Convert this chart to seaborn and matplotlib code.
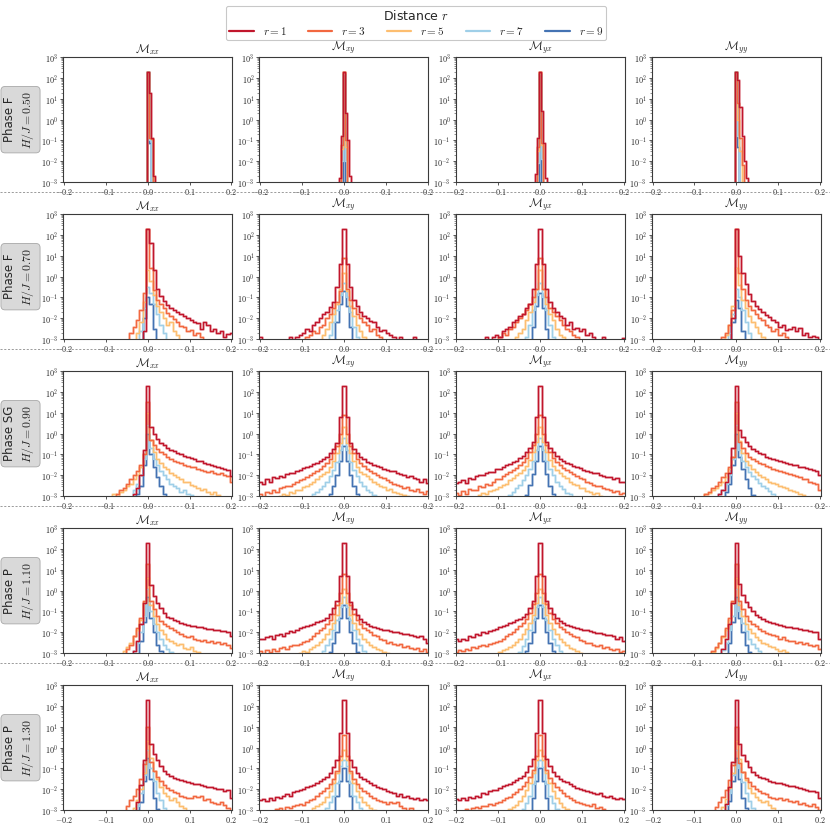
import numpy as np
import pandas as pd
import matplotlib
matplotlib.use("Agg")
import matplotlib.pyplot as plt
import seaborn as sns
from matplotlib.lines import Line2D
from matplotlib.ticker import FixedLocator, FixedFormatter, NullFormatter, LogLocator

# ---------------- labels / categories ----------------
DISTANCES = [1, 3, 5, 7, 9]
COMPONENT_TITLES = [r"$\mathcal{M}_{xx}$", r"$\mathcal{M}_{xy}$",
                    r"$\mathcal{M}_{yx}$", r"$\mathcal{M}_{yy}$"]
PHASES = ["F", "F", "SG", "P", "P"]
FIELDS = ["0.50", "0.70", "0.90", "1.10", "1.30"]
COLORS = ["#c1162c", "#f26840", "#fdbe70", "#9fcfe8", "#4473b3"]
XTICKS = [-0.2, -0.1, 0.0, 0.1, 0.2]
XTICK_LABELS = [r"$-0.2$", r"$-0.1$", r"$0.0$", r"$0.1$", r"$0.2$"]
YTICKS = [1e-3, 1e-2, 1e-1, 1e0, 1e1, 1e2, 1e3]
YTICK_LABELS = [r"$10^{-3}$", r"$10^{-2}$", r"$10^{-1}$", r"$10^{0}$",
                r"$10^{1}$", r"$10^{2}$", r"$10^{3}$"]
BIN_WIDTHS = [0.005, 0.008, 0.008, 0.008, 0.008]

# ---------------- data: (first bin offset from 0, log10 heights) per r ----------------
F050_xx = [(0, [2.3, 1.3, -0.9, -2.7]), (0, [2.3, -0.9, -0.95]), (0, [2.3, -0.9, -0.95]),
           (0, [2.3, -1.0]), (0, [2.3, -1.1])]
F050_xy = [(-2, [-2.8, -0.8, 2.3, 0.3, -1.0, -2.7]), (-1, [-1.2, 2.3, -1.0]), (-1, [-1.4, 2.3, -1.3]),
           (-1, [-2.0, 2.2, -2.0]), (0, [2.2])]
F050_yx = [(-2, [-2.6, -0.9, 2.3, 0.4, -1.1, -2.8]), (-1, [-1.3, 2.3, -1.1]), (-1, [-1.5, 2.3, -1.2]),
           (-1, [-2.1, 2.2, -1.9]), (0, [2.2])]
F050_yy = [(0, [2.3, 1.9, 0.6, -0.8, -2.0, -2.8]), (0, [2.3, 0.8, -0.9, -2.2]), (0, [2.3, 0.0, -1.5]),
           (0, [2.3, -0.8]), (0, [2.3, -1.3])]

F070_xx = [
    (-1, [-2.6, 2.3, 1.6, 0.3, -0.6, -0.95, -1.15, -1.35, -1.5, -1.6, -1.7, -1.8, -1.9, -2.0, -2.1, -2.2,
          -2.25, -2.5, -2.2, -2.3, -2.6, -2.5, -2.7, -2.6, -2.9, -2.75, -2.7]),
    (-5, [-2.7, -2.4, -2.1, -1.6, -0.8, 2.3, 0.4, -0.65, -1.1, -1.3, -1.5, -1.75, -1.9, -2.05, -2.2, -2.35,
          -2.4, -2.6, -2.55, -2.8, -2.7, -2.9]),
    (-3, [-2.7, -2.2, -1.2, 0.3, -0.2, -0.9, -1.4, -1.7, -2.0, -2.3, -2.2, -2.6, -2.8]),
    (-2, [-2.6, -1.5, -0.5, -0.8, -1.3, -1.8, -2.3, -2.7]),
    (-1, [-2.0, -1.0, -1.3, -2.5])]
F070_xy = [
    (-25, [-2.9, -4, -4, -4, -4, -4, -4, -4, -4, -2.9, -4, -2.9, -2.8, -2.7, -2.5, -2.6, -2.3, -2.2, -2.0,
           -1.8, -1.7, -1.45, -1.2, -0.5, 0.6, 2.3, 0.6, -0.5, -1.1, -1.4, -1.7, -1.9, -2.0, -2.15, -2.2,
           -2.4, -2.6, -2.55, -2.7, -2.8, -2.9, -4, -2.9, -4, -4, -4, -2.9]),
    (-11, [-2.9, -2.8, -2.6, -2.7, -2.4, -2.3, -2.0, -1.8, -1.5, -1.2, -0.7, 0.9, -0.6, -1.1, -1.5, -1.8,
           -2.0, -2.2, -2.3, -2.6, -2.5, -2.8, -2.9]),
    (-6, [-2.8, -2.5, -2.2, -1.8, -1.3, -0.6, 0.2, -0.7, -1.4, -1.9, -2.3, -2.6, -2.9]),
    (-4, [-2.8, -2.2, -1.6, -0.9, -0.3, -1.0, -1.7, -2.4, -2.9]),
    (-2, [-2.2, -1.3, -0.7, -1.4, -2.4])]
F070_yx = [
    (-16, [-2.9, -4, -2.9, -2.8, -2.9, -2.6, -2.5, -2.4, -2.2, -2.1, -1.9, -1.8, -1.5, -1.3, -0.6, 0.6, 2.3,
           0.6, -0.6, -1.2, -1.5, -1.7, -1.9, -2.0, -2.3, -2.2, -2.5, -2.45, -2.6, -2.5, -2.8, -2.7, -2.9,
           -4, -4, -2.9, -4, -4, -4, -4, -4, -2.95]),
    (-12, [-2.9, -2.7, -2.8, -2.5, -2.4, -2.2, -2.0, -1.8, -1.6, -1.3, -1.0, -0.6, 0.9, -0.6, -1.0, -1.5,
           -1.7, -1.9, -2.1, -2.3, -2.5, -2.6, -2.8, -2.9]),
    (-7, [-2.9, -2.7, -2.5, -2.1, -1.7, -1.2, -0.6, 0.3, -0.6, -1.3, -1.8, -2.1, -2.5, -2.8, -2.9]),
    (-4, [-2.9, -2.3, -1.6, -0.9, -0.3, -1.0, -1.6, -2.3, -2.9]),
    (-2, [-2.4, -1.4, -0.8, -1.5, -2.5])]
F070_yy = [
    (-1, [-2.0, 2.3, 1.0, 0.2, -0.35, -0.85, -1.15, -1.4, -1.55, -1.7, -1.85, -1.95, -2.1, -2.2, -2.4, -2.3,
          -2.55, -2.5, -2.4, -2.6, -2.45, -2.8, -2.7, -2.9, -2.85, -2.9]),
    (-4, [-2.9, -2.7, -2.3, -1.6, 2.3, 0.2, -0.6, -1.1, -1.4, -1.6, -1.8, -2.0, -2.1, -2.3, -2.4, -2.6,
          -2.5, -2.8, -2.7, -2.9]),
    (-3, [-2.8, -2.3, -1.4, 0.4, -0.4, -1.1, -1.5, -1.9, -2.2, -2.4, -2.7, -2.9]),
    (-2, [-2.7, -1.8, -0.6, -1.0, -1.6, -2.2, -2.7]),
    (-1, [-2.2, -1.1, -1.5, -2.6])]

SG090_xx = [
    (-4, [-2.9, -2.6, -2.0, -0.8, 2.3, 0.3, 0.0, -0.25, -0.45, -0.55, -0.7, -0.8, -0.85, -0.95, -1.0, -1.05,
          -1.1, -1.15, -1.2, -1.3, -1.3, -1.4, -1.45, -1.5, -1.55, -1.6, -1.65, -1.7, -1.75, -2.05]),
    (-9, [-2.9, -2.7, -2.6, -2.4, -2.2, -2.0, -1.8, -1.5, -1.0, 1.5, -0.3, -0.55, -0.75, -0.9, -1.0, -1.1,
          -1.2, -1.3, -1.35, -1.4, -1.5, -1.55, -1.6, -1.6, -1.7, -1.75, -1.8, -1.85, -1.8, -1.9, -1.95,
          -1.9, -2.0, -2.05, -2.3]),
    (-10, [-2.9, -3.5, -2.8, -2.7, -2.5, -2.4, -2.2, -2.0, -1.6, -1.0, 1.0, -0.3, -0.9, -1.2, -1.4, -1.6,
           -1.7, -1.9, -2.0, -2.1, -2.2, -2.3, -2.3, -2.45, -2.5, -2.6, -2.7, -2.65, -2.8, -2.9, -2.8, -2.95]),
    (-4, [-2.7, -2.4, -2.0, -1.2, 0.4, -0.7, -1.2, -1.5, -1.8, -2.0, -2.2, -2.4, -2.5, -2.6, -2.8, -2.7,
          -2.9, -2.95]),
    (-3, [-2.9, -2.5, -1.5, 0.0, -1.0, -1.6, -2.1, -2.5, -2.9])]
SG090_xy = [
    (-25, [-2.3, -2.4, -2.2, -2.3, -2.1, -2.15, -2.05, -2.1, -1.95, -1.9, -1.9, -1.8, -1.75, -1.65, -1.6,
           -1.55, -1.45, -1.4, -1.3, -1.2, -1.1, -0.95, -0.75, -0.45, 0.8, 2.3, 0.8, -0.45, -0.75, -0.95,
           -1.1, -1.2, -1.35, -1.4, -1.5, -1.55, -1.6, -1.7, -1.75, -1.8, -1.8, -1.9, -1.95, -2.0, -2.1,
           -2.05, -2.15, -2.2, -2.3, -2.2, -2.35]),
    (-25, [-2.9, -3.1, -2.8, -2.85, -2.7, -2.8, -2.6, -2.55, -2.5, -2.5, -2.4, -2.3, -2.25, -2.2, -2.1,
           -2.0, -1.9, -1.8, -1.7, -1.55, -1.4, -1.2, -0.95, -0.6, 0.0, 0.9, 0.0, -0.6, -0.95, -1.2, -1.4,
           -1.55, -1.7, -1.8, -1.9, -2.0, -2.1, -2.15, -2.25, -2.3, -2.4, -2.45, -2.5, -2.6, -2.55, -2.7,
           -2.75, -2.65, -2.8, -2.9, -2.75]),
    (-19, [-3.0, -2.9, -2.95, -2.8, -2.85, -2.7, -2.7, -2.55, -2.5, -2.4, -2.3, -2.2, -2.05, -1.95, -1.85,
           -1.6, -1.3, -0.95, -0.45, 0.3, -0.45, -0.95, -1.3, -1.6, -1.85, -1.95, -2.05, -2.2, -2.3, -2.4,
           -2.5, -2.55, -2.7, -2.65, -2.8, -2.85, -2.9, -2.95, -3.0]),
    (-9, [-2.9, -2.8, -2.65, -2.5, -2.3, -2.05, -1.75, -1.35, -0.8, -0.2, -0.8, -1.35, -1.75, -2.05, -2.3,
          -2.5, -2.7, -2.8, -2.95]),
    (-4, [-2.9, -2.5, -2.0, -1.3, -0.6, -1.3, -2.0, -2.5, -2.9])]
SG090_yx = [
    (-25, [-2.35, -2.3, -2.25, -2.35, -2.15, -2.2, -2.05, -2.0, -2.0, -1.9, -1.85, -1.85, -1.7, -1.7, -1.6,
           -1.5, -1.45, -1.35, -1.3, -1.15, -1.05, -0.9, -0.7, -0.4, 0.8, 2.3, 0.8, -0.4, -0.7, -0.9, -1.05,
           -1.2, -1.3, -1.4, -1.45, -1.55, -1.6, -1.65, -1.75, -1.8, -1.85, -1.9, -1.9, -2.0, -2.05, -2.1,
           -2.1, -2.2, -2.15, -2.3, -2.3]),
    (-25, [-2.85, -2.95, -2.75, -2.9, -2.65, -2.7, -2.7, -2.5, -2.55, -2.4, -2.45, -2.3, -2.2, -2.2, -2.05,
           -1.95, -1.85, -1.75, -1.65, -1.5, -1.35, -1.15, -0.9, -0.55, 0.0, 0.9, 0.0, -0.55, -0.9, -1.15,
           -1.35, -1.5, -1.65, -1.75, -1.85, -1.95, -2.05, -2.15, -2.2, -2.3, -2.35, -2.45, -2.5, -2.5,
           -2.6, -2.65, -2.7, -2.8, -2.75, -2.9, -2.85]),
    (-18, [-2.95, -2.85, -2.9, -2.75, -2.7, -2.65, -2.55, -2.45, -2.4, -2.25, -2.15, -2.0, -1.9, -1.75,
           -1.55, -1.25, -0.9, -0.4, 0.3, -0.4, -0.9, -1.25, -1.55, -1.75, -1.9, -2.05, -2.15, -2.3, -2.4,
           -2.45, -2.6, -2.6, -2.75, -2.8, -2.9, -2.85, -3.0]),
    (-9, [-2.95, -2.8, -2.6, -2.45, -2.25, -2.0, -1.7, -1.3, -0.8, -0.2, -0.8, -1.3, -1.7, -2.0, -2.3,
          -2.5, -2.65, -2.85, -2.9]),
    (-4, [-2.95, -2.45, -1.95, -1.3, -0.6, -1.3, -1.95, -2.5, -2.9])]
SG090_yy = [
    (-5, [-2.9, -2.7, -2.3, -1.9, -0.7, 2.3, 0.2, -0.15, -0.4, -0.6, -0.75, -0.85, -0.95, -1.0, -1.1, -1.15,
          -1.2, -1.25, -1.3, -1.35, -1.4, -1.45, -1.5, -1.5, -1.6, -1.6, -1.65, -1.7, -1.75, -1.8, -2.0]),
    (-9, [-2.9, -2.8, -2.6, -2.5, -2.3, -2.1, -1.9, -1.6, -1.1, 1.5, -0.4, -0.7, -0.95, -1.1, -1.2, -1.3,
          -1.4, -1.45, -1.55, -1.6, -1.7, -1.75, -1.8, -1.85, -1.9, -1.95, -2.0, -2.05, -2.1, -2.2, -2.2,
          -2.3, -2.35, -2.4, -2.7]),
    (-9, [-2.9, -2.85, -2.7, -2.6, -2.45, -2.3, -2.1, -1.7, -1.1, 1.0, -0.35, -0.95, -1.3, -1.5, -1.7,
          -1.85, -2.0, -2.1, -2.2, -2.3, -2.35, -2.4, -2.5, -2.55, -2.6, -2.7, -2.75, -2.8, -2.9, -2.95]),
    (-5, [-2.9, -2.7, -2.4, -2.0, -1.2, 0.4, -0.8, -1.3, -1.6, -1.85, -2.05, -2.2, -2.35, -2.5, -2.6,
          -2.75, -2.9]),
    (-3, [-2.8, -2.4, -1.5, 0.0, -1.1, -1.7, -2.2, -2.6, -2.95])]

P110_xx = [
    (-4, [-2.9, -2.4, -1.6, -0.6, 2.3, 0.25, -0.25, -0.6, -0.85, -1.05, -1.25, -1.3, -1.4, -1.45, -1.55,
          -1.6, -1.65, -1.7, -1.7, -1.75, -1.75, -1.8, -1.85, -1.85, -1.9, -1.9, -1.95, -1.95, -2.0, -2.2]),
    (-6, [-2.8, -2.6, -2.2, -1.8, -1.3, -0.5, 1.3, -0.5, -0.9, -1.2, -1.45, -1.6, -1.7, -1.8, -1.9, -2.0,
          -2.1, -2.2, -2.25, -2.2, -2.3, -2.35, -2.4, -2.35, -2.45, -2.4, -2.5, -2.45, -2.55, -2.5, -2.6,
          -2.75]),
    (-7, [-2.9, -2.7, -2.5, -2.2, -1.9, -1.4, -0.6, 0.6, -0.7, -1.2, -1.6, -1.9, -2.1, -2.3, -2.4, -2.5,
          -2.6, -2.55, -2.75, -2.8, -2.7, -2.9, -2.95]),
    (-4, [-2.9, -2.5, -2.0, -1.2, 0.1, -1.0, -1.6, -2.0, -2.3, -2.6, -2.8, -2.95]),
    (-2, [-2.4, -1.5, -0.3, -1.3, -2.0, -2.6, -2.9])]
P110_xy = [
    (-25, [-2.3, -2.3, -2.25, -2.2, -2.3, -2.15, -2.1, -2.2, -2.05, -1.95, -2.0, -1.9, -1.8, -1.75, -1.7,
           -1.65, -1.6, -1.5, -1.45, -1.4, -1.3, -1.1, -0.85, -0.5, 0.7, 2.3, 0.7, -0.55, -0.9, -1.15,
           -1.35, -1.5, -1.6, -1.7, -1.75, -1.8, -1.85, -1.9, -1.9, -1.95, -2.0, -2.0, -2.05, -2.1, -2.1,
           -2.15, -2.2, -2.25, -2.2, -2.3, -2.5]),
    (-25, [-2.9, -3.1, -2.85, -2.95, -2.8, -2.9, -2.75, -2.7, -2.8, -2.65, -2.6, -2.6, -2.55, -2.45, -2.4,
           -2.3, -2.2, -2.05, -1.9, -1.8, -1.6, -1.4, -1.1, -0.7, -0.1, 0.8, -0.1, -0.7, -1.1, -1.4, -1.6,
           -1.8, -1.9, -2.0, -2.15, -2.2, -2.3, -2.35, -2.5, -2.45, -2.55, -2.6, -2.55, -2.7, -2.65, -2.75,
           -2.8, -2.75, -2.9, -2.8, -2.95]),
    (-13, [-3.0, -2.9, -2.95, -2.8, -2.7, -2.6, -2.45, -2.3, -2.1, -1.85, -1.55, -1.15, -0.6, 0.1, -0.6,
           -1.15, -1.55, -1.85, -2.1, -2.3, -2.45, -2.6, -2.7, -2.8, -2.85, -2.95, -3.0]),
    (-6, [-2.9, -2.6, -2.3, -1.9, -1.4, -0.8, -0.3, -0.8, -1.4, -1.9, -2.3, -2.6, -2.9]),
    (-4, [-2.95, -2.5, -2.0, -1.3, -0.7, -1.3, -2.0, -2.5, -2.95])]
P110_yx = [
    (-25, [-2.3, -2.4, -2.3, -2.35, -2.2, -2.25, -2.1, -2.15, -2.0, -2.05, -1.95, -1.9, -1.85, -1.75, -1.7,
           -1.65, -1.55, -1.5, -1.4, -1.35, -1.25, -1.1, -0.85, -0.5, 0.7, 2.3, 0.7, -0.5, -0.85, -1.1,
           -1.3, -1.45, -1.55, -1.65, -1.7, -1.75, -1.8, -1.85, -1.9, -1.9, -1.95, -2.0, -2.05, -2.05, -2.1,
           -2.15, -2.15, -2.2, -2.3, -2.25, -2.4]),
    (-25, [-2.95, -2.85, -2.9, -2.8, -2.85, -2.7, -2.75, -2.65, -2.6, -2.65, -2.55, -2.5, -2.45, -2.4, -2.3,
           -2.2, -2.1, -2.0, -1.85, -1.7, -1.55, -1.35, -1.05, -0.65, -0.1, 0.8, -0.1, -0.65, -1.05, -1.35,
           -1.55, -1.75, -1.85, -2.0, -2.1, -2.2, -2.25, -2.35, -2.4, -2.5, -2.5, -2.6, -2.65, -2.6, -2.75,
           -2.7, -2.8, -2.85, -2.8, -2.95, -2.9]),
    (-12, [-2.95, -2.85, -2.8, -2.7, -2.6, -2.45, -2.3, -2.1, -1.85, -1.55, -1.15, -0.6, 0.1, -0.6, -1.15,
           -1.55, -1.85, -2.1, -2.3, -2.45, -2.6, -2.75, -2.8, -2.9, -3.0]),
    (-6, [-2.95, -2.65, -2.3, -1.9, -1.4, -0.8, -0.3, -0.8, -1.4, -1.9, -2.3, -2.6, -2.9]),
    (-4, [-2.9, -2.5, -2.0, -1.3, -0.7, -1.3, -2.0, -2.5, -2.9])]
P110_yy = [
    (-4, [-2.8, -2.3, -1.6, -0.6, 2.3, 0.3, -0.2, -0.55, -0.8, -1.0, -1.15, -1.25, -1.35, -1.45, -1.5,
          -1.55, -1.6, -1.65, -1.7, -1.75, -1.75, -1.8, -1.8, -1.85, -1.9, -1.9, -1.95, -2.0, -2.0, -2.3]),
    (-7, [-2.9, -2.7, -2.5, -2.2, -1.8, -1.3, -0.5, 1.3, -0.5, -0.9, -1.2, -1.45, -1.6, -1.7, -1.85, -1.95,
          -2.05, -2.1, -2.15, -2.2, -2.3, -2.25, -2.35, -2.4, -2.4, -2.5, -2.45, -2.55, -2.5, -2.6, -2.65,
          -2.6, -2.8]),
    (-7, [-2.95, -2.75, -2.5, -2.25, -1.9, -1.4, -0.6, 0.6, -0.7, -1.2, -1.6, -1.85, -2.05, -2.25, -2.35,
          -2.5, -2.55, -2.65, -2.7, -2.8, -2.9, -2.85, -2.95]),
    (-4, [-2.85, -2.5, -1.9, -1.2, 0.1, -1.0, -1.55, -1.95, -2.3, -2.55, -2.75, -2.9]),
    (-2, [-2.5, -1.5, -0.3, -1.3, -2.0, -2.6, -2.95])]

P130_xx = [
    (-3, [-2.6, -1.8, -0.6, 2.3, 0.2, -0.3, -0.6, -0.9, -1.1, -1.25, -1.35, -1.45, -1.5, -1.55, -1.6,
          -1.65, -1.7, -1.75, -1.75, -1.8, -1.85, -1.9, -1.9, -1.95, -2.0, -2.0, -2.1, -2.05, -2.4]),
    (-6, [-2.8, -2.5, -2.3, -2.0, -1.5, -0.8, 1.0, -0.7, -1.1, -1.4, -1.6, -1.8, -1.95, -2.05, -2.15, -2.2,
          -2.3, -2.35, -2.4, -2.4, -2.3, -2.35, -2.3, -2.5, -2.45, -2.6, -2.65, -2.7, -2.6, -2.75, -2.9,
          -3.2]),
    (-4, [-2.9, -2.5, -2.0, -1.2, 0.3, -0.5, -1.1, -1.5, -1.9, -2.2, -2.3, -2.5, -2.4, -2.6, -2.8, -2.9]),
    (-3, [-2.8, -2.2, -1.3, -0.1, -1.0, -1.6, -2.2, -2.5, -2.9]),
    (-2, [-2.6, -1.6, -0.5, -1.5, -2.4, -2.95])]
P130_xy = [
    (-25, [-2.5, -2.45, -2.55, -2.4, -2.5, -2.35, -2.4, -2.3, -2.25, -2.3, -2.15, -2.1, -2.05, -2.0, -1.9,
           -1.85, -1.8, -1.7, -1.6, -1.5, -1.4, -1.2, -0.95, -0.6, 0.7, 2.3, 0.7, -0.6, -0.95, -1.2, -1.4,
           -1.5, -1.6, -1.7, -1.8, -1.9, -1.95, -2.0, -2.1, -2.15, -2.2, -2.3, -2.25, -2.35, -2.3, -2.4,
           -2.45, -2.4, -2.5, -2.45, -2.5]),
    (-20, [-2.95, -2.9, -3.2, -2.85, -2.9, -2.8, -2.75, -2.7, -2.75, -2.6, -2.5, -2.45, -2.3, -2.2, -2.1,
           -1.95, -1.75, -1.5, -1.1, -0.4, 0.6, -0.4, -1.1, -1.5, -1.75, -1.95, -2.1, -2.2, -2.3, -2.4,
           -2.5, -2.55, -2.6, -2.7, -2.6, -2.65, -2.6, -2.8, -2.9, -3.2, -2.9]),
    (-9, [-2.9, -2.8, -2.7, -2.6, -2.35, -2.1, -1.7, -1.2, -0.6, -0.1, -0.6, -1.2, -1.7, -2.1, -2.35, -2.6,
          -2.75, -2.9, -3.0]),
    (-5, [-2.9, -2.6, -2.3, -1.7, -0.9, -0.6, -0.9, -1.7, -2.3, -2.6, -2.9]),
    (-2, [-2.3, -1.6, -1.0, -1.6, -2.3])]
P130_yx = [
    (-25, [-2.45, -2.5, -2.4, -2.5, -2.35, -2.4, -2.3, -2.35, -2.2, -2.25, -2.1, -2.05, -2.05, -1.95, -1.85,
           -1.8, -1.75, -1.65, -1.55, -1.45, -1.35, -1.15, -0.9, -0.55, 0.7, 2.3, 0.7, -0.55, -0.9, -1.15,
           -1.35, -1.5, -1.6, -1.65, -1.75, -1.85, -1.95, -2.0, -2.05, -2.1, -2.15, -2.2, -2.25, -2.2, -2.3,
           -2.35, -2.3, -2.4, -2.45, -2.4, -2.45]),
    (-22, [-2.95, -3.2, -2.9, -2.85, -2.9, -2.8, -2.8, -2.7, -2.75, -2.65, -2.6, -2.5, -2.4, -2.35, -2.25,
           -2.15, -2.0, -1.85, -1.65, -1.4, -1.05, -0.4, 0.6, -0.4, -1.05, -1.45, -1.7, -1.9, -2.05, -2.2,
           -2.3, -2.4, -2.5, -2.6, -2.65, -2.7, -2.75, -2.8, -2.7, -2.9, -2.85, -2.95]),
    (-9, [-2.95, -2.85, -2.75, -2.55, -2.3, -2.05, -1.7, -1.2, -0.6, -0.1, -0.6, -1.2, -1.7, -2.1, -2.4,
          -2.65, -2.85, -2.95]),
    (-5, [-2.95, -2.65, -2.3, -1.75, -0.95, -0.6, -0.95, -1.75, -2.3, -2.65, -2.95]),
    (-2, [-2.4, -1.6, -1.0, -1.6, -2.4])]
P130_yy = [
    (-3, [-2.7, -1.9, -0.7, 2.3, 0.2, -0.35, -0.65, -0.95, -1.15, -1.3, -1.4, -1.45, -1.5, -1.6, -1.65,
          -1.7, -1.7, -1.75, -1.8, -1.85, -1.85, -1.9, -1.95, -2.0, -2.05, -2.1, -2.1, -2.15, -2.4]),
    (-6, [-2.85, -2.6, -2.35, -2.05, -1.55, -0.85, 1.0, -0.75, -1.15, -1.45, -1.65, -1.85, -2.0, -2.1,
          -2.2, -2.25, -2.35, -2.4, -2.45, -2.4, -2.5, -2.45, -2.55, -2.6, -2.55, -2.7, -2.65, -2.75, -2.8,
          -2.7, -2.85, -3.0]),
    (-4, [-2.85, -2.45, -1.95, -1.2, 0.3, -0.55, -1.15, -1.55, -1.95, -2.2, -2.35, -2.5, -2.6, -2.55,
          -2.75, -2.9]),
    (-3, [-2.75, -2.2, -1.3, -0.1, -1.0, -1.65, -2.2, -2.55, -2.9]),
    (-2, [-2.55, -1.6, -0.5, -1.5, -2.4, -2.9])]

PANELS = [
    [F050_xx, F050_xy, F050_yx, F050_yy],
    [F070_xx, F070_xy, F070_yx, F070_yy],
    [SG090_xx, SG090_xy, SG090_yx, SG090_yy],
    [P110_xx, P110_xy, P110_yx, P110_yy],
    [P130_xx, P130_xy, P130_yx, P130_yy],
]

# ---------------- style ----------------
sns.set_style("ticks")
plt.rcParams["font.family"] = ["DejaVu Sans"]
plt.rcParams["mathtext.fontset"] = "cm"
plt.rcParams["axes.edgecolor"] = "#3a3a3a"
plt.rcParams["axes.linewidth"] = 0.8

DPI = 100
fig = plt.figure(figsize=(8.3, 8.3), dpi=DPI)
gs = fig.add_gridspec(5, 4, left=0.076, right=0.989, top=0.931, bottom=0.024,
                      wspace=0.16, hspace=0.258)


def panel_frame(curves, bw):
    nhalf = int(round(0.2 / bw))
    centers = np.arange(-nhalf, nhalf + 1) * bw
    rows = []
    for r, (start, vals) in zip(DISTANCES, curves):
        for i, v in enumerate(vals):
            k = start + i
            if -nhalf <= k <= nhalf and v > -3.5:
                rows.append((float(centers[k + nhalf]), 10.0 ** v, r))
    edges = [float(e) for e in (np.arange(-nhalf, nhalf + 2) - 0.5) * bw]
    return pd.DataFrame(rows, columns=["x", "w", "r"]), edges


axes = []
for i in range(5):
    row_axes = []
    for j in range(4):
        ax = fig.add_subplot(gs[i, j])
        df, edges = panel_frame(PANELS[i][j], BIN_WIDTHS[i])
        for lw, alpha in [(2.0, 0.3), (1.0, 1.0)]:
            sns.histplot(data=df, x="x", weights="w", hue="r", hue_order=DISTANCES,
                         palette=COLORS, bins=edges, element="step", fill=False,
                         stat="count", linewidth=lw, alpha=alpha, legend=False, ax=ax)
        ax.set_yscale("log")
        ax.set_ylim(1e-3, 1e3)
        ax.set_xlim(-0.202, 0.202)
        ax.set_xlabel("")
        ax.set_ylabel("")
        ax.set_xticks(XTICKS)
        ax.set_xticklabels(XTICK_LABELS)
        ax.yaxis.set_major_locator(FixedLocator(YTICKS))
        ax.yaxis.set_major_formatter(FixedFormatter(YTICK_LABELS))
        ax.yaxis.set_minor_locator(LogLocator(base=10, subs=np.arange(2, 10), numticks=20))
        ax.yaxis.set_minor_formatter(NullFormatter())
        ax.tick_params(axis="both", which="major", labelsize=5.8, length=2.5, width=0.6, pad=1.0,
                       color="#3a3a3a")
        ax.tick_params(axis="y", which="minor", length=1.4, width=0.4, color="#3a3a3a")
        ax.set_title(COMPONENT_TITLES[j], fontsize=8.3, pad=1.0)
        row_axes.append(ax)
    axes.append(row_axes)

# row labels
for i in range(5):
    pos = axes[i][0].get_position()
    yc = (pos.y0 + pos.y1) / 2
    fig.text(0.0235, yc, f"Phase {PHASES[i]}\n$H/J = {FIELDS[i]}$", rotation=90,
             ha="center", va="center", multialignment="center", fontsize=8.5, linespacing=1.35,
             bbox=dict(boxstyle="round,pad=0.35", fc="#d9d9d9", ec="#a8a8a8", lw=0.6))

# dashed separators
for i in range(4):
    y = axes[i][0].get_position().y0 - 10 / 830
    fig.add_artist(Line2D([0, 1], [y, y], transform=fig.transFigure, color="#8c8c8c",
                          lw=0.6, ls=(0, (2.5, 2))))

# legend
handles = [Line2D([0], [0], color=c, lw=1.6) for c in COLORS]
labels = [rf"$r = {d}$" for d in DISTANCES]
leg = fig.legend(handles, labels, loc="upper center", bbox_to_anchor=(0.5015, 0.9995), ncol=5,
                 title=r"Distance $r$", fontsize=8, title_fontsize=9, frameon=True,
                 handlelength=2.2, columnspacing=1.9, handletextpad=0.8, borderpad=0.28,
                 labelspacing=0.2, fancybox=True)
leg.get_frame().set_edgecolor("#bbbbbb")
leg.get_frame().set_linewidth(0.8)

fig.savefig("out.png", dpi=DPI)
